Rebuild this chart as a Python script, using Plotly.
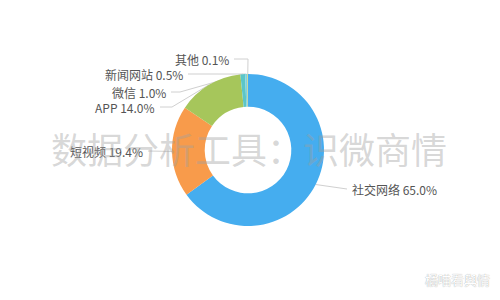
import math
import plotly.graph_objects as go

# ---- data ----
labels = ["社交网络", "短视频", "APP", "微信", "新闻网站", "其他"]
values = [65.0, 19.4, 14.0, 1.0, 0.5, 0.1]
colors = ["#45ADEF", "#F89B4B", "#A6C65B", "#5BC6C8", "#7ED0DF", "#E9CC3C"]

# ---- layout (pixel geometry of a 500x300 canvas) ----
W, H = 500, 300
CX, CY, R = 248, 150, 76
HOLE = 0.57
# label placement: (elbow x, elbow y, text x, text y, anchor side)
label_layout = [
    (345, 189, 350, 189, "left"),
    (160, 151, 145, 151, "right"),
    (172, 107, 157, 107, "right"),
    (180, 92, 168, 92, "right"),
    (200, 74, 185, 74, "right"),
    (248, 59, 231, 59, "right"),
]

fig = go.Figure()

fig.add_trace(go.Pie(
    labels=labels, values=values, hole=HOLE, sort=False,
    direction="clockwise", rotation=0,
    marker=dict(colors=colors, line=dict(width=0)),
    textinfo="none", hoverinfo="label+percent", showlegend=False,
    domain=dict(x=[(CX - R) / W, (CX + R) / W],
                y=[1 - (CY + R) / H, 1 - (CY - R) / H]),
))

total = sum(values)
cum = 0.0
for lab, v, (ex, ey, tx, ty, side) in zip(labels, values, label_layout):
    mid = (cum + v / 2) / total * 2 * math.pi
    cum += v
    ax = CX + R * math.sin(mid)
    ay = CY - R * math.cos(mid)
    lx = [ax, ex, tx + (3 if side == "right" else -3)]
    ly = [ay, ey, ty]
    fig.add_trace(go.Scatter(
        x=lx, y=ly, mode="lines", line=dict(color="#D0D0D0", width=1),
        hoverinfo="skip", showlegend=False,
    ))
    fig.add_annotation(
        x=tx, y=ty, xref="x", yref="y", showarrow=False,
        text=f"{lab} {v / total * 100:.1f}%",
        xanchor=side, yanchor="middle",
        font=dict(family="Noto Sans CJK SC", size=12, color="#555555"),
    )

# watermark
fig.add_annotation(
    x=249, y=148, xref="x", yref="y", showarrow=False,
    text="数据分析工具：识微商情", xanchor="center", yanchor="middle",
    font=dict(family="Noto Sans CJK SC", size=36, color="rgba(160,160,160,0.42)"),
)
fig.add_annotation(
    x=492, y=279, xref="x", yref="y", showarrow=False,
    text="橘喵看舆情", xanchor="right", yanchor="middle",
    font=dict(family="Noto Sans CJK SC", size=13, color="#FFFFFF",
              shadow="0px 0px 1px #8A8A8A"),
)

fig.update_layout(
    width=W, height=H, margin=dict(l=0, r=0, t=0, b=0),
    paper_bgcolor="white", plot_bgcolor="rgba(0,0,0,0)",
    xaxis=dict(range=[0, W], visible=False, fixedrange=True),
    yaxis=dict(range=[H, 0], visible=False, fixedrange=True),
)

fig.write_html("out.html")
